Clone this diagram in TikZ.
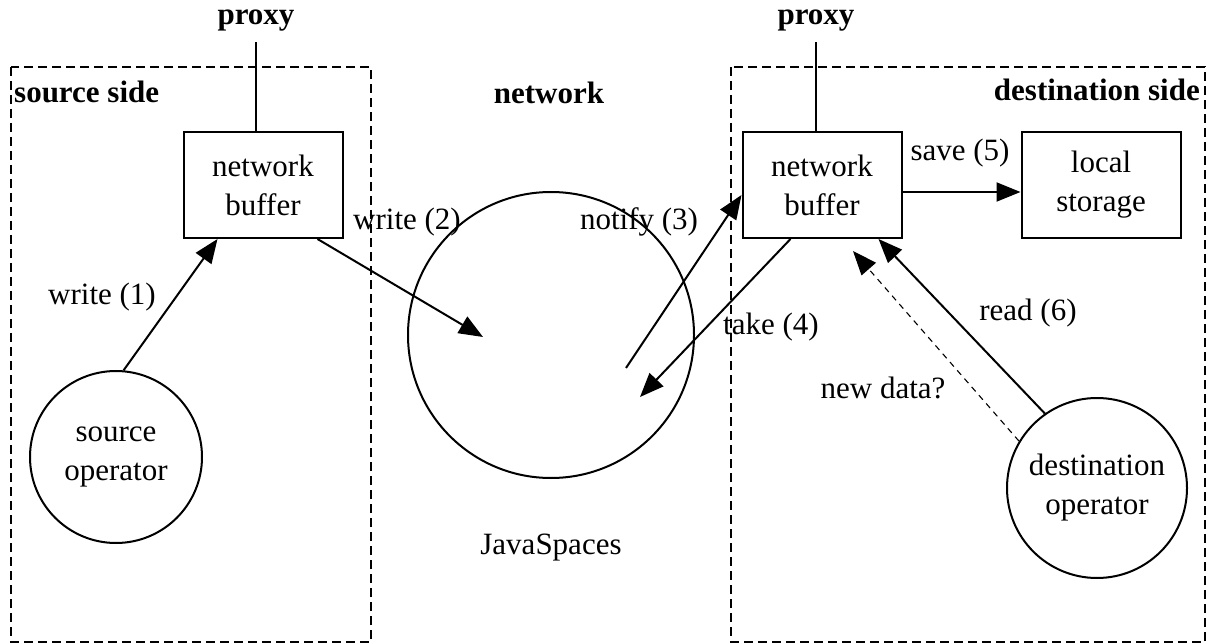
\documentclass[tikz,border=0pt]{standalone}
\usepackage{fontspec}
\setmainfont{Liberation Serif}
\usetikzlibrary{positioning,arrows.meta}
\tikzset{%
buffer/.style={draw,rectangle,line width=2pt,minimum width=159pt,minimum height=106pt,align=center,inner sep=0pt},
operator/.style={draw,circle,line width=2pt,align=center,inner sep=0pt},
side/.style={draw,line width=2pt,dash pattern=on 9pt off 5pt},
heading/.style={font=\fontsize{31}{39}\selectfont\bfseries,inner sep=1pt},
msg/.style={inner sep=1pt},
flow/.style={-{Triangle[length=24pt,width=19pt]},line width=2pt},
poll/.style={flow,line width=1.1pt,dash pattern=on 6pt off 5pt}
}

\begin{document}
\begin{tikzpicture}[x=1pt,y=-1pt,font=\fontsize{31}{39}\selectfont]

    \useasboundingbox (0,0) rectangle (1213,644);

    % the two sides
    \draw[side] (11,67) rectangle (371,642);
    \draw[side] (731,67) rectangle (1205,642);

    \node[heading,anchor=west] (srcside) at (13,92) {source side};
    \node[heading] (net) at (549,93) {network};
    \node[heading,anchor=east] (dstside) at (1201,90) {destination side};

    % source side
    \node[buffer] (srcbuf) at (263,185) {network\\buffer};
    \node[operator,minimum size=172pt] (srcop) at (116,457) {source\\operator};
    \node[heading,anchor=south] (srcproxy) at (256,32) {proxy};

    % network
    \node[operator,minimum size=286pt] (jsp) at (551,335) {};
    \node[msg] (jsplabel) at (551,548) {JavaSpaces};

    % destination side
    \node[buffer] (dstbuf) at (822,185) {network\\buffer};
    \node[buffer] (store) at (1101,185) {local\\storage};
    \node[operator,minimum size=180pt] (dstop) at (1097,488) {destination\\operator};
    \node[heading,anchor=south] (dstproxy) at (816,32) {proxy};

    \coordinate (w2tip) at (483,337);
    \coordinate (n3tail) at (626,368);
    \coordinate (t4tip) at (640,397);
    \coordinate (ndtip) at (853,251);

    \draw[line width=2pt,shorten >=10pt] ([xshift=-7pt]srcbuf.north) -- (srcproxy.south);
    \draw[line width=2pt,shorten >=10pt] ([xshift=-6pt]dstbuf.north) -- (dstproxy.south);

    \draw[flow] (srcop.85) -- ([xshift=35pt]srcbuf.south west);
    \draw[flow] ([xshift=-26pt]srcbuf.south east) -- (w2tip);
    \draw[flow] (n3tail) -- ([yshift=-10pt]dstbuf.west);
    \draw[flow] ([xshift=49pt]dstbuf.south west) -- (t4tip);
    \draw[flow] ([yshift=-7pt]dstbuf.east) -- ([yshift=-7pt]store.west);
    \draw[flow] (dstop.125) -- ([xshift=-24pt]dstbuf.south east);
    \draw[poll] (dstop.149) -- (ndtip);

    \node[msg] (w1) at (102,297) {write (1)};
    \node[msg] (w2) at (407,222) {write (2)};
    \node[msg] (n3) at (639,222) {notify (3)};
    \node[msg] (t4) at (771,327) {take (4)};
    \node[msg] (s5) at (960,153) {save (5)};
    \node[msg] (r6) at (1028,313) {read (6)};
    \node[msg] (nd) at (883,388) {new data?};

\end{tikzpicture}
\end{document}
